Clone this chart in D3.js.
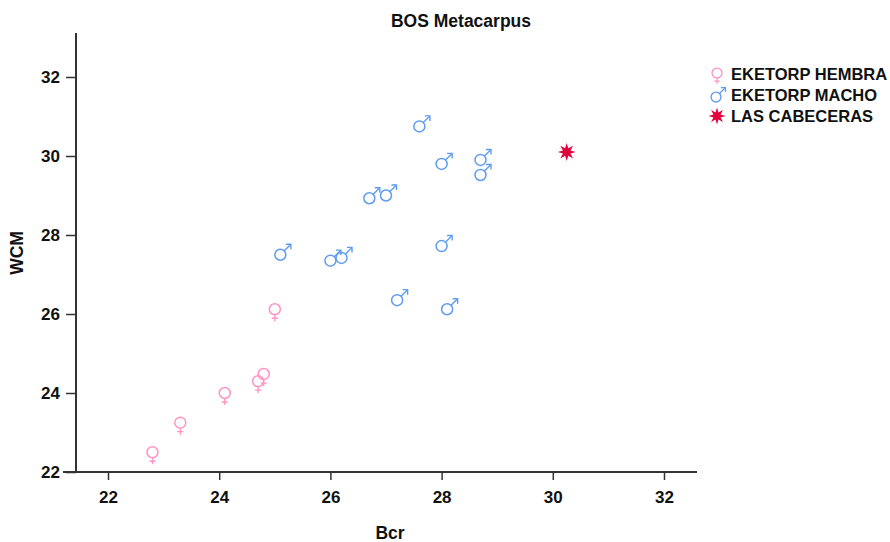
<!DOCTYPE html>
<html>
<head>
<meta charset="utf-8">
<script src="https://cdn.jsdelivr.net/npm/d3@7"></script>
<style>
  body { margin: 0; background: #fff; }
  text { font-family: "Liberation Sans", Arial, sans-serif; }
</style>
</head>
<body>
<div id="chart"></div>
<script>
// data
const hembraBcr = [22.8, 23.3, 24.1, 24.7, 24.8, 25.0];
const hembraWcm = [22.5, 23.25, 24.0, 24.3, 24.48, 26.12];
const machoBcr = [27.6, 28.0, 28.7, 28.7, 26.7, 27.0, 25.1, 26.0, 26.2, 28.0, 27.2, 28.1];
const machoWcm = [30.75, 29.8, 29.9, 29.52, 28.93, 29.0, 27.5, 27.35, 27.42, 27.72, 26.35, 26.12];
const cabecerasBcr = [30.25];
const cabecerasWcm = [30.1];
const tickValues = [22, 24, 26, 28, 30, 32];
const legendLabels = ["EKETORP HEMBRA", "EKETORP MACHO", "LAS CABECERAS"];

const width = 890, height = 542;
const pink = "#ff94c4", blue = "#5f9cf0", red = "#e0003c";

const svg = d3.select("#chart").append("svg")
    .attr("width", width)
    .attr("height", height);

const x = d3.scaleLinear().domain([22, 32]).range([108, 664]);
const y = d3.scaleLinear().domain([22, 32]).range([472, 77]);

// axes
const xAxis = svg.append("g")
    .attr("transform", "translate(0,472)")
    .call(d3.axisBottom(x).tickValues(tickValues).tickSize(8).tickPadding(11).tickSizeOuter(0));
xAxis.select(".domain").attr("d", "M63,0H697").attr("stroke", "#333").attr("stroke-width", 2);

const yAxis = svg.append("g")
    .attr("transform", "translate(76,0)")
    .call(d3.axisLeft(y).tickValues(tickValues).tickSize(10).tickPadding(6).tickSizeOuter(0));
yAxis.select(".domain").attr("d", "M0,33V472").attr("stroke", "#333").attr("stroke-width", 2);

svg.selectAll(".tick line").attr("stroke", "#333").attr("stroke-width", 1.5);
svg.selectAll(".tick text")
    .attr("font-family", "'Liberation Sans', Arial, sans-serif")
    .attr("font-size", "17px")
    .attr("font-weight", "bold")
    .attr("fill", "#111");

// title and axis labels
svg.append("text")
    .attr("x", 461)
    .attr("y", 27)
    .attr("text-anchor", "middle")
    .attr("font-size", "17.5px")
    .attr("font-weight", "bold")
    .attr("fill", "#111")
    .text("BOS Metacarpus");

svg.append("text")
    .attr("x", 390)
    .attr("y", 539)
    .attr("text-anchor", "middle")
    .attr("font-size", "17.5px")
    .attr("font-weight", "bold")
    .attr("fill", "#111")
    .text("Bcr");

svg.append("text")
    .attr("transform", "translate(23,253) rotate(-90)")
    .attr("text-anchor", "middle")
    .attr("font-size", "17.5px")
    .attr("font-weight", "bold")
    .attr("fill", "#111")
    .text("WCM");

// marker shapes
function female(g, color) {
    g.append("circle").attr("r", 5.5).attr("fill", "none").attr("stroke", color).attr("stroke-width", 1.5);
    g.append("path").attr("d", "M0,5.5V12M-3,9H3").attr("stroke", color).attr("stroke-width", 1.3).attr("fill", "none");
}

function male(g, color) {
    g.append("circle").attr("r", 5.5).attr("fill", "none").attr("stroke", color).attr("stroke-width", 1.5);
    g.append("path").attr("d", "M3.9,-3.9L10,-10").attr("stroke", color).attr("stroke-width", 1.4).attr("fill", "none");
    g.append("path").attr("d", "M5.5,-10.5H10.5V-5.5").attr("stroke", color).attr("stroke-width", 1.4).attr("fill", "none");
}

function star(g, color, r) {
    const pts = d3.range(16).map(i => {
        const a = i * Math.PI / 8 - Math.PI / 2;
        const rr = i % 2 === 0 ? r : r * 0.45;
        return [rr * Math.cos(a), rr * Math.sin(a)];
    });
    g.append("path").attr("d", d3.line()(pts) + "Z").attr("fill", color);
}

// points
hembraBcr.forEach((d, i) => {
    const g = svg.append("g").attr("transform", `translate(${x(d)},${y(hembraWcm[i])})`);
    female(g, pink);
});

machoBcr.forEach((d, i) => {
    const g = svg.append("g").attr("transform", `translate(${x(d)},${y(machoWcm[i])})`);
    male(g, blue);
});

cabecerasBcr.forEach((d, i) => {
    const g = svg.append("g").attr("transform", `translate(${x(d)},${y(cabecerasWcm[i])})`);
    star(g, red, 9);
});

// legend
const legend = svg.append("g").attr("transform", "translate(717,74)");
legendLabels.forEach((label, i) => {
    const g = legend.append("g").attr("transform", `translate(0,${i * 21})`);
    const m = g.append("g").attr("transform", i === 0 ? "translate(0,-1) scale(0.9)" : (i === 1 ? "translate(-1,2) scale(0.9)" : "translate(0,0)"));
    if (i === 0) female(m, pink);
    else if (i === 1) male(m, blue);
    else star(m, red, 8.5);
    g.append("text")
        .attr("x", 14)
        .attr("y", 6)
        .attr("font-size", "16.5px")
        .attr("font-weight", "bold")
        .attr("fill", "#111")
        .text(label);
});
</script>
</body>
</html>
